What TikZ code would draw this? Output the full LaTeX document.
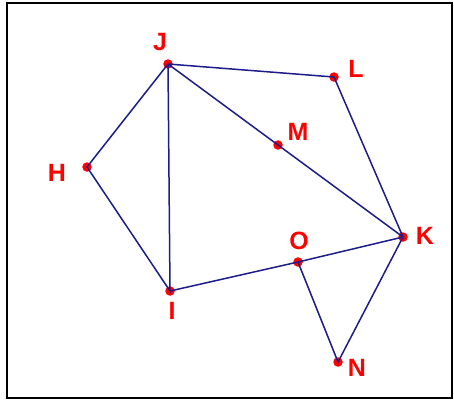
\documentclass[tikz,border=0pt]{standalone}
\usepackage{fontspec}
\setmainfont{Liberation Sans}
\definecolor{edgeblue}{HTML}{1C1C8A}
\definecolor{dotred}{HTML}{FF0000}
\usetikzlibrary{calc}
\tikzset{
  pt_dot/.style={circle,fill=dotred,inner sep=0pt,minimum size=9.5pt},
  pt_label/.style={font=\fontsize{25}{28}\selectfont\bfseries,text=dotred,inner sep=0pt},
  seg/.style={draw=edgeblue,line width=1.5pt},
}
\begin{document}
\begin{tikzpicture}[x=1pt,y=-1pt]
    \useasboundingbox (0,0) rectangle (454,400);
    \draw[line width=2pt] (7,3) rectangle (452,398);

    % points
    \node[pt_dot] (J) at (168,64) {};
    \node[pt_dot] (L) at (334,77) {};
    \node[pt_dot] (M) at (278,145) {};
    \node[pt_dot] (H) at (87,167) {};
    \node[pt_dot] (K) at (403,237) {};
    \node[pt_dot] (O) at (298,262) {};
    \node[pt_dot] (I) at (170,291) {};
    \node[pt_dot] (N) at (338,362) {};

    % names
    \node[pt_label] (lJ) at (160,42) {J};
    \node[pt_label] (lL) at (356,69) {L};
    \node[pt_label] (lM) at (298,132) {M};
    \node[pt_label] (lH) at (57,173) {H};
    \node[pt_label] (lK) at (425,236) {K};
    \node[pt_label] (lO) at (299,241) {O};
    \node[pt_label] (lI) at (172,311) {I};
    \node[pt_label] (lN) at (357,368) {N};

    % segments
    \draw[seg] (J.center)--(L.center)--(K.center);
    \draw[seg] (J.center)--(M.center)--(K.center);
    \draw[seg] (J.center)--(H.center)--(I.center)--(J.center);
    \draw[seg] (I.center)--(O.center)--(K.center);
    \draw[seg] (O.center)--(N.center)--(K.center);
  \end{tikzpicture}
\end{document}
